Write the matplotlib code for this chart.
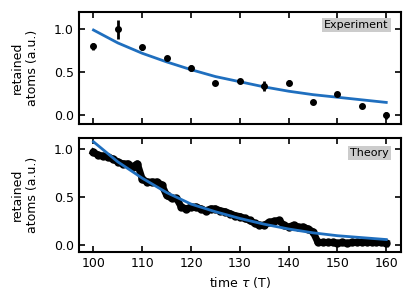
import numpy as np
import matplotlib.pyplot as plt

# experiment
t_exp = [100, 105, 110, 115, 120, 125, 130, 135, 140, 145, 150, 155, 160]
y_exp = [0.80, 1.00, 0.79, 0.66, 0.55, 0.37, 0.40, 0.34, 0.38, 0.15, 0.25, 0.11, 0.00]
e_exp = [0.04, 0.11, 0.03, 0.02, 0.04, 0.01, 0.02, 0.06, 0.03, 0.01, 0.01, 0.01, 0.04]
fit_exp = [0.99, 0.84, 0.72, 0.62, 0.53, 0.45, 0.39, 0.33, 0.28, 0.24, 0.21, 0.18, 0.15]

# theory
t_th = list(range(100, 161))
y_th = [0.97, 0.94, 0.93, 0.92, 0.90, 0.87, 0.85, 0.85, 0.82, 0.85,
        0.69, 0.66, 0.66, 0.66, 0.63, 0.52, 0.49, 0.49, 0.40, 0.38,
        0.40, 0.40, 0.38, 0.36, 0.38, 0.38, 0.36, 0.35, 0.33, 0.31,
        0.30, 0.28, 0.26, 0.23, 0.21, 0.21, 0.24, 0.25, 0.26, 0.21,
        0.19, 0.21, 0.19, 0.19, 0.17, 0.14, 0.03, 0.03, 0.03, 0.03,
        0.02, 0.03, 0.02, 0.03, 0.03, 0.03, 0.03, 0.03, 0.03, 0.03, 0.02]
fit_th = [1.08, 0.87, 0.70, 0.55, 0.43, 0.35, 0.28, 0.22, 0.17, 0.13, 0.10, 0.08, 0.06]

blue = '#1f6fbf'
plt.rcParams['font.size'] = 9

fig = plt.figure(figsize=(4.15, 2.91), dpi=100)
ax1 = fig.add_axes([0.19, 0.574, 0.776, 0.385])
ax2 = fig.add_axes([0.19, 0.134, 0.776, 0.392])

ax1.errorbar(t_exp, y_exp, yerr=e_exp, fmt='o', color='k', ms=4, elinewidth=2, capsize=0, zorder=3)
ax1.plot(t_exp, fit_exp, color=blue, lw=2, zorder=2)
ax1.set_ylim(-0.1, 1.2)
ax1.text(0.962, 0.88, 'Experiment', transform=ax1.transAxes, ha='right', va='center', fontsize=8,
         bbox=dict(facecolor='#cccccc', edgecolor='none', pad=1.5))

ax2.plot(t_th, y_th, 'o-', color='k', ms=5, lw=5, zorder=2)
ax2.plot(t_exp, fit_th, color=blue, lw=2, zorder=3)
ax2.set_ylim(-0.07, 1.12)
ax2.text(0.962, 0.87, 'Theory', transform=ax2.transAxes, ha='right', va='center', fontsize=8,
         bbox=dict(facecolor='#cccccc', edgecolor='none', pad=1.5))

for ax in (ax1, ax2):
    ax.set_xlim(97, 163)
    ax.set_xticks([100, 110, 120, 130, 140, 150, 160])
    ax.set_yticks([0.0, 0.5, 1.0])
    ax.tick_params(direction='in', top=True, right=True, length=4, width=1.2)
    for s in ax.spines.values():
        s.set_linewidth(1.5)
    ax.set_ylabel('retained\natoms (a.u.)')
    ax.yaxis.set_label_coords(-0.125, 0.5)

ax1.set_xticklabels([])
ax2.set_xlabel('time $\\tau$ (T)')

fig.savefig('out.png', dpi=100)
